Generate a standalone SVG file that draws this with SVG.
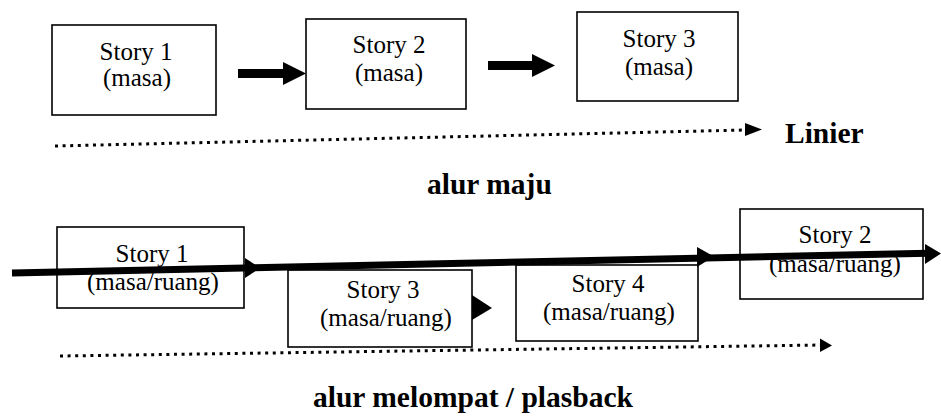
<svg xmlns="http://www.w3.org/2000/svg" width="941" height="416" viewBox="0 0 941 416">
  <style>
    .box { fill: #fff; stroke: #000; stroke-width: 1.6; }
    .t { font-family: "Liberation Serif", "Times New Roman", serif; font-size: 25px; fill: #000; text-anchor: middle; }
    .lbl { font-family: "Liberation Serif", "Times New Roman", serif; font-size: 29.5px; font-weight: bold; fill: #000; }
    .dot { fill: none; stroke: #000; stroke-width: 3; stroke-dasharray: 3 4.6; }
    .thick { fill: none; stroke: #000; stroke-width: 7; }
    .head { fill: #000; stroke: none; }
  </style>
  <rect width="941" height="416" fill="#fff"/>

  <!-- top row: alur maju -->
  <g id="top-story1">
    <rect class="box" x="52" y="25" width="164" height="90"/>
    <text class="t" x="136" y="60">Story 1</text>
    <text class="t" x="137" y="86">(masa)</text>
  </g>
  <g id="top-story2">
    <rect class="box" x="306" y="19" width="160" height="90"/>
    <text class="t" x="389" y="53">Story 2</text>
    <text class="t" x="389" y="81">(masa)</text>
  </g>
  <g id="top-story3">
    <rect class="box" x="577" y="12" width="161" height="89"/>
    <text class="t" x="659" y="47">Story 3</text>
    <text class="t" x="659" y="75">(masa)</text>
  </g>

  <!-- bottom row: alur melompat -->
  <g id="bot-story1">
    <rect class="box" x="57" y="227" width="187" height="81"/>
    <text class="t" x="152" y="262">Story 1</text>
    <text class="t" x="153" y="290">(masa/ruang)</text>
  </g>
  <g id="bot-story3">
    <rect class="box" x="288" y="270" width="184" height="77"/>
    <text class="t" x="383" y="298">Story 3</text>
    <text class="t" x="386" y="326">(masa/ruang)</text>
  </g>
  <g id="bot-story4">
    <rect class="box" x="516" y="265" width="182" height="76"/>
    <text class="t" x="608" y="292">Story 4</text>
    <text class="t" x="609" y="320">(masa/ruang)</text>
  </g>
  <g id="bot-story2">
    <rect class="box" x="740" y="209" width="183" height="90"/>
    <text class="t" x="835" y="243">Story 2</text>
    <text class="t" x="835" y="272">(masa/ruang)</text>
  </g>

  <g id="connectors">
    <!-- top arrows -->
    <rect class="head" x="238" y="69" width="46" height="9"/>
    <polygon class="head" points="283,62 306,73.5 283,85"/>
    <rect class="head" x="488" y="61" width="45" height="9"/>
    <polygon class="head" points="532,54 555,65.5 532,77"/>
    <!-- top dotted timeline -->
    <line class="dot" x1="55" y1="146" x2="746" y2="130"/>
    <polygon class="head" points="745,123 762,129.5 745,136"/>
    <!-- bottom thick timeline -->
    <line class="thick" x1="12" y1="273" x2="928" y2="253.3"/>
    <polygon class="head" points="245,258 260,268 245,278"/>
    <polygon class="head" points="697,247 714,256.5 697,267"/>
    <polygon class="head" points="925,244 941,253.5 925,264"/>
    <!-- small arrowhead after story 3 -->
    <polygon class="head" points="472,295 492,308 472,320"/>
    <!-- bottom dotted timeline -->
    <line class="dot" x1="60" y1="356" x2="821" y2="345"/>
    <polygon class="head" points="820,338.5 832,345.5 820,352"/>
  </g>

  <text class="lbl" x="785" y="143">Linier</text>
  <text class="lbl" x="427" y="194">alur maju</text>
  <text class="lbl" x="313" y="407">alur melompat / plasback</text>
</svg>
